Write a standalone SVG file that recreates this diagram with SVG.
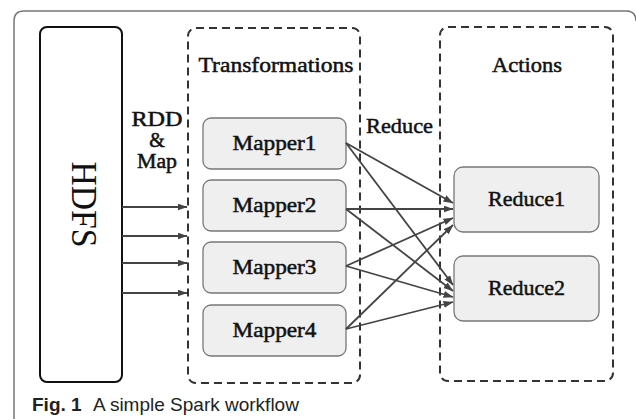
<svg xmlns="http://www.w3.org/2000/svg" width="636" height="419" viewBox="0 0 636 419">
<style>
.box{fill:#efefef;stroke:#777;stroke-width:1.3}
.dash{fill:none;stroke:#333;stroke-width:2;stroke-dasharray:8 5}
.conn{stroke:#444;stroke-width:1.8;fill:none;marker-end:url(#ah)}
</style>
<defs>
<marker id="ah" markerUnits="userSpaceOnUse" markerWidth="10" markerHeight="8" refX="9.5" refY="3.5" orient="auto">
<path d="M0,0 L10,3.5 L0,7 z" fill="#444"/>
</marker>
</defs>
<rect width="636" height="419" fill="#fff"/>
<path d="M14,419 V21 Q14,11 24,11 H626 Q636,11 636,21" fill="none" stroke="#777" stroke-width="1.5"/>

<g id="hdfs">
<rect x="40" y="27" width="82" height="355" rx="7" fill="#fff" stroke="#111" stroke-width="2"/>
<text transform="translate(72,204.5) rotate(90)" x="0" y="0" text-anchor="middle" font-family="Liberation Serif,Times New Roman,serif" font-size="36" fill="#111" textLength="86" lengthAdjust="spacingAndGlyphs">HDFS</text>
</g>

<g font-family="Liberation Serif,Times New Roman,serif" font-size="22" fill="#111" stroke="#111" stroke-width="0.5" text-anchor="middle">
<g id="transformations">
<rect class="dash" x="188" y="28" width="172" height="355" rx="8"/>
<text x="276" y="72" textLength="155" lengthAdjust="spacingAndGlyphs">Transformations</text>
</g>

<g id="actions">
<rect class="dash" x="440" y="27" width="173" height="354" rx="8"/>
<text x="527" y="72" textLength="70" lengthAdjust="spacingAndGlyphs">Actions</text>
</g>

<g id="rdd-map-label" font-size="20">
<text x="157" y="126" textLength="51" lengthAdjust="spacingAndGlyphs">RDD</text>
<text x="157" y="147">&amp;</text>
<text x="157" y="168" textLength="40" lengthAdjust="spacingAndGlyphs">Map</text>
</g>

<g id="reduce-label">
<text x="399.5" y="133" textLength="67" lengthAdjust="spacingAndGlyphs">Reduce</text>
</g>

<g id="mapper1"><rect class="box" x="203" y="118" width="143" height="51" rx="8"/><text x="274.5" y="150" textLength="84" lengthAdjust="spacingAndGlyphs">Mapper1</text></g>
<g id="mapper2"><rect class="box" x="203" y="180" width="143" height="51" rx="8"/><text x="274.5" y="212" textLength="84" lengthAdjust="spacingAndGlyphs">Mapper2</text></g>
<g id="mapper3"><rect class="box" x="203" y="242" width="143" height="51" rx="8"/><text x="274.5" y="274" textLength="84" lengthAdjust="spacingAndGlyphs">Mapper3</text></g>
<g id="mapper4"><rect class="box" x="203" y="305" width="143" height="51" rx="8"/><text x="274.5" y="337" textLength="84" lengthAdjust="spacingAndGlyphs">Mapper4</text></g>

<g id="reduce1"><rect class="box" x="454" y="167" width="145" height="65" rx="9"/><text x="526.5" y="206" textLength="77" lengthAdjust="spacingAndGlyphs">Reduce1</text></g>
<g id="reduce2"><rect class="box" x="454" y="256" width="145" height="65" rx="9"/><text x="526.5" y="295" textLength="77" lengthAdjust="spacingAndGlyphs">Reduce2</text></g>
</g>

<g id="connectors">
<line class="conn" x1="122" y1="207" x2="187" y2="207"/>
<line class="conn" x1="122" y1="236" x2="187" y2="236"/>
<line class="conn" x1="122" y1="263" x2="187" y2="263"/>
<line class="conn" x1="122" y1="293" x2="187" y2="293"/>

<line class="conn" x1="346" y1="143" x2="453" y2="203"/>
<line class="conn" x1="346" y1="143" x2="453" y2="285"/>
<line class="conn" x1="346" y1="209" x2="453" y2="209"/>
<line class="conn" x1="346" y1="209" x2="453" y2="291"/>
<line class="conn" x1="346" y1="266" x2="453" y2="218"/>
<line class="conn" x1="346" y1="266" x2="453" y2="297"/>
<line class="conn" x1="346" y1="329" x2="453" y2="225"/>
<line class="conn" x1="346" y1="329" x2="453" y2="302"/>
</g>

<g id="caption">
<text x="32" y="411" font-family="Liberation Sans,Arial,sans-serif" font-size="19" fill="#222"><tspan font-weight="bold">Fig. 1</tspan><tspan x="93">A simple Spark workflow</tspan></text>
</g>
</svg>
